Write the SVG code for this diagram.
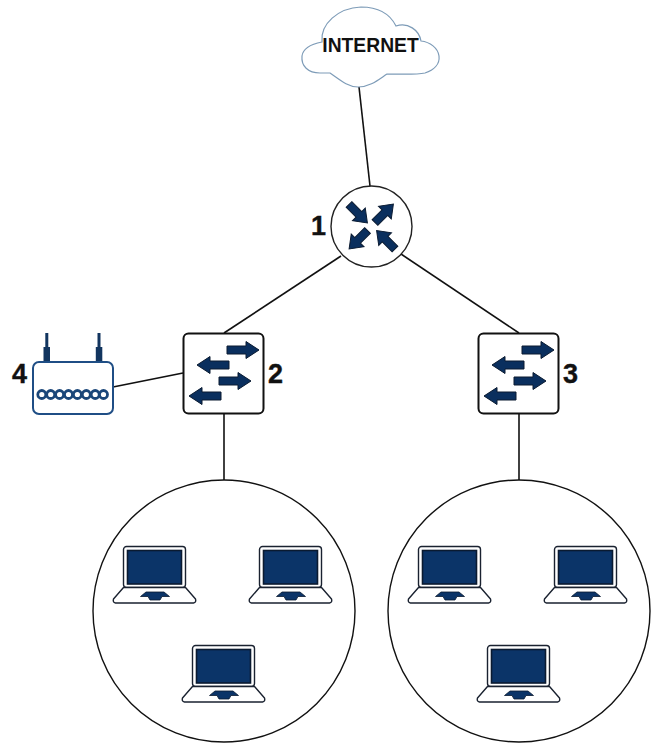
<svg xmlns="http://www.w3.org/2000/svg" width="657" height="744" viewBox="0 0 657 744">
<style>
.ln{fill:none;stroke:#111;stroke-width:1.6}
.big{fill:#fff;stroke:#111;stroke-width:1.4}
.lbl{font-family:"Liberation Sans",Arial,sans-serif;font-weight:bold;font-size:27px;fill:#111;stroke:#111;stroke-width:0.400}
.dark{fill:#0a2f5e;stroke:#0a1a30;stroke-width:1}
.ring{fill:#fff;stroke:#1a4679;stroke-width:2.800}
</style>
<defs>
<path id="arr" class="dark" d="M0-4H19V-8.500L32 0 19 8.500V4H0Z"/>
<path id="rarr" class="dark" d="M0-4H14V-9L26 0 14 9V4H0Z"/>
<g id="sw">
<rect x="0.500" y="0.500" width="80" height="80" rx="5" fill="#fff" stroke="#111" stroke-width="2"/>
<use href="#arr" transform="translate(44 17)"/>
<use href="#arr" transform="translate(46 32) rotate(180)"/>
<use href="#arr" transform="translate(36 48)"/>
<use href="#arr" transform="translate(38 63) rotate(180)"/>
</g>
<g id="lap">
<rect x="10.500" y="0.500" width="62" height="41" rx="3" fill="#fff" stroke="#1a2230" stroke-width="1.400"/>
<rect x="14.500" y="4.500" width="54" height="33.500" fill="#0b3468" stroke="#0a1a30" stroke-width="1.600"/>
<path d="M10.500 41.500H72.500L82.500 53Q83.500 56.500 80.500 57H2.500Q-0.500 56.500 0.500 53Z" fill="#fff" stroke="#1a2230" stroke-width="1.400" stroke-linejoin="round"/>
<path d="M33 46H51L56.500 50.500H49L47 54H37L35 50.500H27.500Z" fill="#0b3468" stroke="#0a1a30" stroke-width="0.800"/>
</g>
</defs>
<g id="connectors">
<path class="ln" d="M359 87L370 186"/>
<path class="ln" d="M341 256L224 333"/>
<path class="ln" d="M401 254L519 333"/>
<path class="ln" d="M113 387L183 373"/>
<path class="ln" d="M224 414V480"/>
<path class="ln" d="M519 414V480"/>
</g>
<g id="cloud">
<path d="M322 42C312 44 303 48 302 56C301 66 308 73 320 73C325 73 328 73 330 73C340 80 348 87 358 87C370 87 378 80 387 74C400 74 415 75 425 73C434 70 440 64 439 56C438 48 430 42 421 41C419 30 408 22 396 26C390 14 378 7 361 7C338 8 320 24 322 42Z" fill="#fff" stroke="#7e9cb8" stroke-width="1.200"/>
<text x="370.500" y="52" text-anchor="middle" font-family="'Liberation Sans',Arial,sans-serif" font-weight="bold" font-size="19.300" fill="#111">INTERNET</text>
</g>
<g id="router1">
<circle cx="371.500" cy="226.500" r="40.500" fill="#fff" stroke="#222" stroke-width="1.400"/>
<use href="#rarr" transform="translate(349 204.500) rotate(45)"/>
<use href="#rarr" transform="translate(375 222.500) rotate(-45)"/>
<use href="#rarr" transform="translate(367.500 230.500) rotate(135)"/>
<use href="#rarr" transform="translate(395 249) rotate(-135)"/>
<text class="lbl" x="311" y="235">1</text>
</g>
<g id="switch2"><use href="#sw" x="183" y="333"/><text class="lbl" x="268" y="383">2</text></g>
<g id="switch3"><use href="#sw" x="478" y="333"/><text class="lbl" x="563" y="383">3</text></g>
<g id="ap4">
<path d="M45.300 333H48.300V347H50V362H43.500V347H45.300Z M97.500 333H100.500V347H102.300V362H95.800V347H97.500Z" fill="#12355f"/>
<rect x="33" y="362" width="80" height="52" rx="6" fill="#fff" stroke="#1f4e85" stroke-width="2"/>
<g class="ring">
<circle cx="41.800" cy="394.500" r="4"/><circle cx="50.700" cy="394.500" r="4"/><circle cx="59.600" cy="394.500" r="4"/><circle cx="68.500" cy="394.500" r="4"/><circle cx="77.400" cy="394.500" r="4"/><circle cx="86.300" cy="394.500" r="4"/><circle cx="95.200" cy="394.500" r="4"/><circle cx="103.500" cy="394.500" r="4"/>
</g>
<text class="lbl" x="12" y="383">4</text>
</g>
<g id="net2">
<circle cx="224" cy="611" r="131" class="big"/>
<use href="#lap" x="113" y="546"/>
<use href="#lap" x="249" y="546"/>
<use href="#lap" x="182" y="645"/>
</g>
<g id="net3">
<circle cx="519" cy="611" r="131" class="big"/>
<use href="#lap" x="408" y="546"/>
<use href="#lap" x="544" y="546"/>
<use href="#lap" x="477" y="645"/>
</g>
</svg>
